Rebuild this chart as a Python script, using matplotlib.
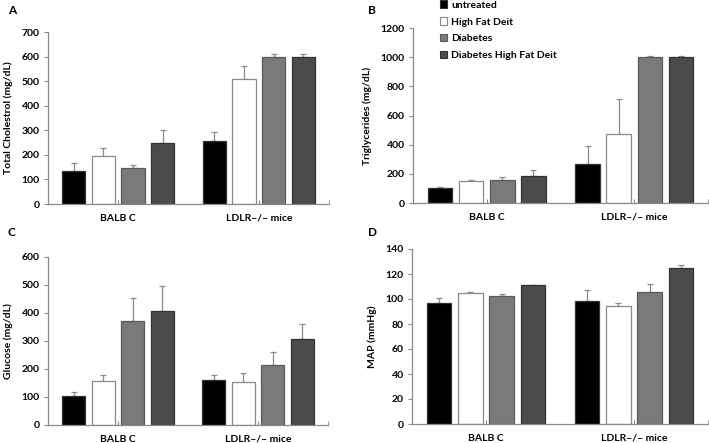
import matplotlib
matplotlib.use("Agg")
import matplotlib.pyplot as plt
from matplotlib.patches import Patch
import numpy as np

plt.rcParams['font.family'] = ['Lato', 'DejaVu Sans']
plt.rcParams['font.weight'] = 'bold'

groups = ["BALB C", "LDLR\u2013/\u2013 mice"]
series = ["untreated", "High Fat Deit", "Diabetes", "Diabetes High Fat Deit"]
face_colors = ["#000000", "#ffffff", "#7a7a7a", "#4b4b4b"]
edge_colors = ["#333333", "#8a8a8a", "#5a5a5a", "#333333"]

# values per series: [BALB C, LDLR-/- mice]
chol_mean = [[136, 255], [196, 508], [146, 600], [250, 600]]
chol_top = [[166, 295], [228, 560], [158, 611], [302, 611]]

trig_mean = [[102, 266], [148, 476], [155, 1002], [187, 1002]]
trig_top = [[109, 392], [157, 713], [178, 1011], [225, 1011]]

gluc_mean = [[104, 159], [156, 154], [371, 214], [407, 308]]
gluc_top = [[117, 177], [177, 185], [452, 262], [497, 362]]

map_mean = [[96.7, 98.6], [104.7, 94.8], [102.3, 105.8], [111.0, 125.0]]
map_top = [[101.0, 107.4], [105.5, 97.0], [104.0, 112.0], [111.5, 127.0]]

panels = [
    ("A", "Total Cholestrol (mg/dL)", chol_mean, chol_top, 700, 100, (48, 329, 32, 204), (8, 10)),
    ("B", "Triglycerides (mg/dL)", trig_mean, trig_top, 1200, 200, (413, 708, 28, 203), (368, 10)),
    ("C", "Glucose (mg/dL)", gluc_mean, gluc_top, 600, 100, (48, 328, 257, 425), (8, 232)),
    ("D", "MAP (mmHg)", map_mean, map_top, 140, 20, (412, 708, 249, 424), (368, 232)),
]

W, H = 709, 443
fig = plt.figure(figsize=(W / 100, H / 100), dpi=100)

step = 0.211
width = 0.166
xg = np.arange(len(groups))
fs = 7.5

for letter, ylabel, means, tops, ymax, ystep, (l, r, t, b), (lx, ly) in panels:
    ax = fig.add_axes([l / W, 1 - b / H, (r - l) / W, (b - t) / H])
    for i in range(len(series)):
        x = xg + (i - 1.5) * step
        m = np.array(means[i], dtype=float)
        up = np.array(tops[i], dtype=float) - m
        ax.errorbar(x, m, yerr=[np.zeros_like(up), up], fmt='none',
                    ecolor="#8a8a8a", elinewidth=0.9, capsize=2, capthick=0.9, zorder=1)
        ax.bar(x, m, width=width, color=face_colors[i], edgecolor=edge_colors[i],
               linewidth=0.9, zorder=2)
    ax.set_xlim(-0.5, 1.5)
    ax.set_ylim(0, ymax)
    ax.set_yticks(np.arange(0, ymax + 1, ystep))
    ax.set_xticks(xg)
    ax.set_xticklabels(groups)
    ax.set_xticks([1.5], minor=True)
    for s in ("top", "right"):
        ax.spines[s].set_visible(False)
    for s in ("left", "bottom"):
        ax.spines[s].set_color("#8a8a8a")
        ax.spines[s].set_linewidth(0.9)
    ax.tick_params(axis='x', which='both', direction='in', length=3, color="#8a8a8a",
                   labelsize=fs, pad=7)
    ax.tick_params(axis='y', direction='out', length=3, color="#8a8a8a", labelsize=fs, pad=3)
    ax.set_ylabel(ylabel, fontsize=fs, fontweight='bold', labelpad=6)
    fig.text(lx / W, 1 - ly / H, letter, fontsize=8.5, fontweight='bold', va='center', ha='left')

handles = [Patch(facecolor=face_colors[i], edgecolor=edge_colors[i], linewidth=0.8)
           for i in range(len(series))]
fig.legend(handles, series, loc='upper left', bbox_to_anchor=(440 / W, 1 - 0.5 / H),
           frameon=False, fontsize=fs, handlelength=0.7, handleheight=0.7,
           handletextpad=0.35, labelspacing=0.72, borderaxespad=0, borderpad=0)

fig.savefig("out.png", dpi=100)
